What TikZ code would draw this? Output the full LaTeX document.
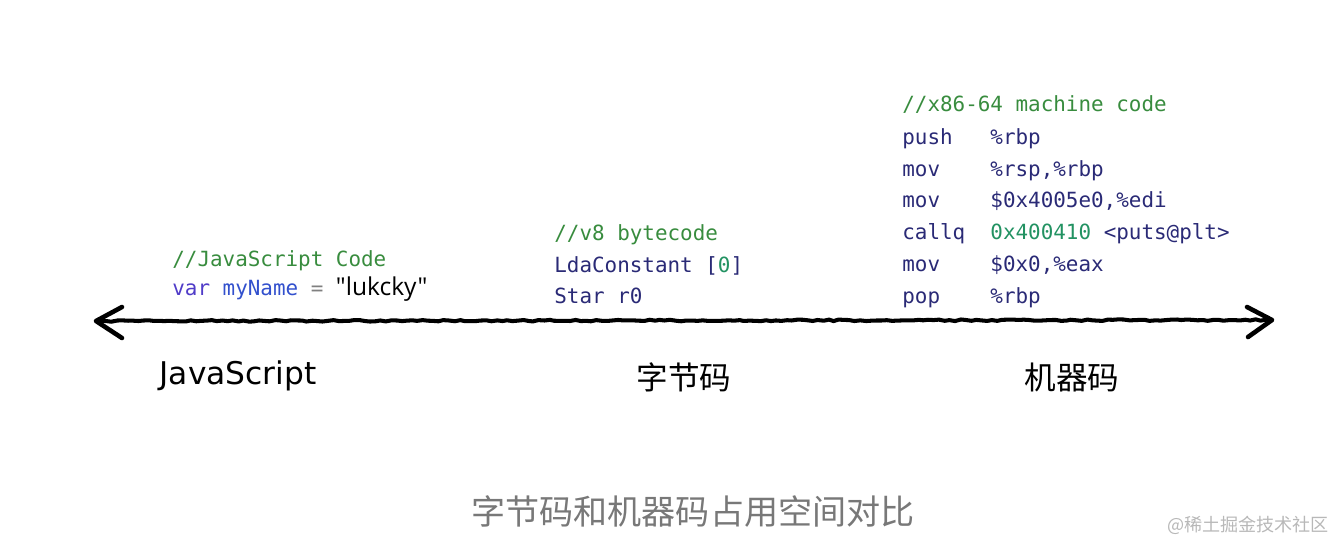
\documentclass[tikz,border=0pt]{standalone}
\usepackage{fontspec}
\setmainfont{DejaVu Sans}
\setmonofont{DejaVu Sans Mono}
\newfontfamily\cjk{Noto Sans CJK SC}
\newfontfamily\strfont{Open Sans}
\usetikzlibrary{positioning,calc,decorations.pathmorphing}
\definecolor{comment}{RGB}{56,140,62}
\definecolor{codeblue}{RGB}{42,42,118}
\definecolor{number}{RGB}{34,146,98}
\definecolor{keyword}{RGB}{80,60,200}
\definecolor{ident}{RGB}{50,80,205}
\definecolor{captiongray}{RGB}{120,120,120}

\begin{document}
\begin{tikzpicture}[x=0.02cm, y=-0.02cm,
    code/.style={anchor=base west, inner sep=0pt, text=codeblue, font=\ttfamily\fontsize{11.9}{14}\selectfont},
    remark/.style={code, text=comment},
    axislabel/.style={inner sep=0pt, font=\fontsize{17.8}{20}\selectfont},
    cjklabel/.style={inner sep=0pt, font=\cjk\fontsize{18}{20}\selectfont},
    sketch/.style={line width=2.3pt, line cap=round, decorate,
      decoration={random steps, segment length=3pt, amplitude=0.45pt}},
    tip/.style={line width=2.6pt, line cap=round, line join=round}]
    \useasboundingbox (0,0) rectangle (1334,544);

    % javascript source
    \node[remark] (jsHead) at (172,266) {//JavaScript Code};
    \node[code] (jsLine) at (172,295) {\textcolor{keyword}{var} \textcolor{ident}{myName} \textcolor{gray}{=} \textcolor{black}{\strfont\fontsize{14}{16}\selectfont "lukcky"}};

    % bytecode
    \node[remark] (bcHead) at (554,240) {//v8 bytecode};
    \node[code] (bcLine1) at (554,272) {LdaConstant [\textcolor{number}{0}]};
    \node[code] (bcLine2) at (554,303) {Star r0};

    % machine code
    \node[remark] (mcHead) at (902,112) {//x86-64 machine code};
    \node[code] (mcLine1) at (902,144) {push\ \ \ \%rbp};
    \node[code] (mcLine2) at (902,176) {mov\ \ \ \ \%rsp,\%rbp};
    \node[code] (mcLine3) at (902,207) {mov\ \ \ \ \$0x4005e0,\%edi};
    \node[code] (mcLine4) at (902,239) {callq\ \ \textcolor{number}{0x400410} <puts@plt>};
    \node[code] (mcLine5) at (902,271) {mov\ \ \ \ \$0x0,\%eax};
    \node[code] (mcLine6) at (902,303) {pop\ \ \ \ \%rbp};

    % axis
    \coordinate (lhs) at (96,321);
    \coordinate (rhs) at (1272,320);
    \draw[sketch] (lhs) -- (rhs);
    \draw[tip] ($(lhs)+(26,-14)$) -- (lhs) -- ($(lhs)+(26,17)$);
    \draw[tip] ($(rhs)+(-25,-13)$) -- (rhs) -- ($(rhs)+(-24,17)$);

    \node[axislabel] (jsLabel) at (238,376) {JavaScript};
    \node[cjklabel] (bcLabel) at (684,377) {字节码};
    \node[cjklabel] (mcLabel) at (1072,377) {机器码};

    \node[inner sep=0pt, text=captiongray, font=\cjk\fontsize{19.4}{22}\selectfont] (caption) at (693,512) {字节码和机器码占用空间对比};
    \node[inner sep=0pt, text=black!28, font=\cjk\fontsize{10.3}{12}\selectfont] (mark) at (1248,525) {@稀土掘金技术社区};
\end{tikzpicture}
\end{document}
